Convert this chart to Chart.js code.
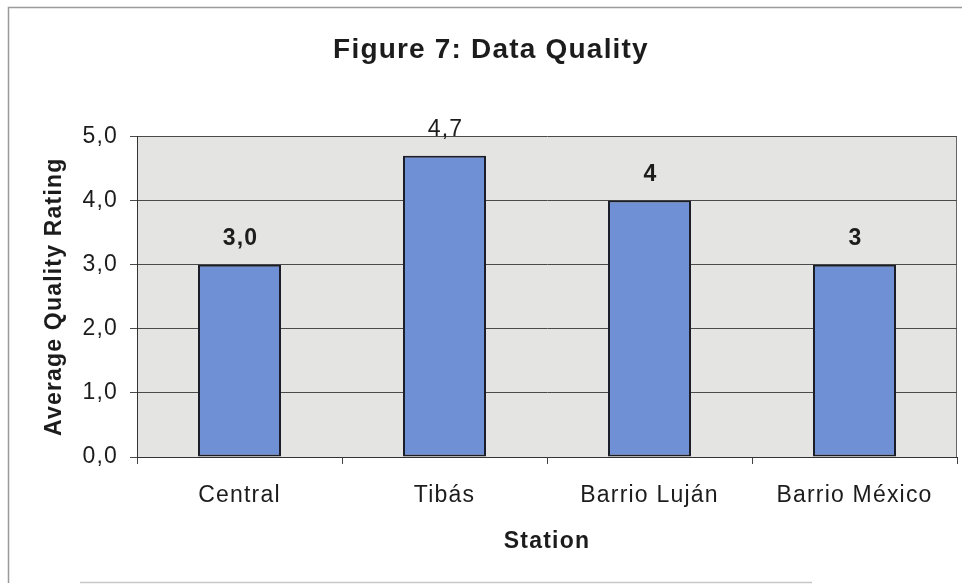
<!DOCTYPE html>
<html>
<head>
<meta charset="utf-8">
<script src="https://cdn.jsdelivr.net/npm/chart.js@4"></script>
<style>
  html, body { margin: 0; padding: 0; background: #ffffff; }
  canvas { display: block; }
</style>
</head>
<body>
<canvas id="chart" width="962" height="585"></canvas>
<script>
// Stations and their average quality ratings
const stations = ['Central', 'Tibás', 'Barrio Luján', 'Barrio México'];
const ratings = [3.0, 4.7, 4, 3];
const ratingLabels = ['3,0', '4,7', '4', '3'];
const yTickLabels = ['0,0', '1,0', '2,0', '3,0', '4,0', '5,0'];

const FONT = "'Liberation Sans', Arial, Helvetica, sans-serif";
const TEXT = '#1c1c1c';
const TRACKING = '1.2px';

// Slightly tracked-out lettering for all canvas text
const spacing = {
  id: 'spacing',
  beforeUpdate(chart) { chart.ctx.letterSpacing = TRACKING; },
  beforeDraw(chart) { chart.ctx.letterSpacing = TRACKING; }
};

// Grey plot panel plus the thin outer frame
const panel = {
  id: 'panel',
  beforeDraw(chart) {
    const { ctx, chartArea: a, width, height } = chart;
    ctx.save();
    ctx.fillStyle = '#e4e4e2';
    ctx.fillRect(a.left, a.top, a.right - a.left, a.bottom - a.top);
    ctx.strokeStyle = '#666666';
    ctx.lineWidth = 1;
    ctx.beginPath();
    ctx.moveTo(a.right - 0.5, a.top);
    ctx.lineTo(a.right - 0.5, a.bottom);
    ctx.stroke();
    ctx.strokeStyle = '#9a9a9a';
    ctx.lineWidth = 1.5;
    ctx.beginPath();
    ctx.moveTo(width, 7.5);
    ctx.lineTo(8.5, 7.5);
    ctx.lineTo(8.5, height - 2);
    ctx.stroke();
    ctx.strokeStyle = '#c8c8c8';
    ctx.beginPath();
    ctx.moveTo(80, height - 2.5);
    ctx.lineTo(width - 150, height - 2.5);
    ctx.stroke();
    ctx.restore();
  }
};

// Value labels above each bar
const valueLabels = {
  id: 'valueLabels',
  afterDatasetsDraw(chart, args, opts) {
    const { ctx } = chart;
    const meta = chart.getDatasetMeta(0);
    ctx.save();
    ctx.letterSpacing = TRACKING;
    ctx.fillStyle = TEXT;
    ctx.textAlign = 'center';
    ctx.textBaseline = 'middle';
    meta.data.forEach((bar, i) => {
      const weight = opts.weights[i] || 'bold';
      ctx.font = weight + ' 23px ' + FONT;
      ctx.fillText(ratingLabels[i], bar.x + 1, bar.y - opts.offset);
    });
    ctx.restore();
  }
};

new Chart(document.getElementById('chart'), {
  type: 'bar',
  data: {
    labels: stations,
    datasets: [{
      data: ratings,
      backgroundColor: '#7090d5',
      borderColor: '#1b1d28',
      borderWidth: 2,
      borderSkipped: false,
      categoryPercentage: 1.0,
      barPercentage: 0.405
    }]
  },
  options: {
    responsive: false,
    animation: false,
    devicePixelRatio: 1,
    layout: { padding: { left: 25, right: 5, top: 0, bottom: 10 } },
    plugins: {
      legend: { display: false },
      tooltip: { enabled: false },
      title: {
        display: true,
        text: 'Figure 7: Data Quality',
        color: TEXT,
        font: { family: FONT, size: 28, weight: 'bold' },
        padding: { top: 33.5, bottom: 69.4 }
      },
      valueLabels: { offset: 26, weights: ['bold', 'normal', 'bold', 'bold'] }
    },
    scales: {
      x: {
        grid: {
          offset: true,
          drawOnChartArea: false,
          drawTicks: true,
          tickLength: 7,
          color: '#444444'
        },
        border: { display: true, color: '#333333' },
        ticks: { padding: 18, color: TEXT, font: { family: FONT, size: 23 } },
        title: {
          display: true,
          text: 'Station',
          color: TEXT,
          font: { family: FONT, size: 23, weight: 'bold' },
          padding: { top: 0, bottom: 20 }
        },
        afterFit(scale) { scale.height = 118; }
      },
      y: {
        min: 0,
        max: 5,
        ticks: {
          stepSize: 1,
          padding: 12,
          color: TEXT,
          font: { family: FONT, size: 23 },
          callback: (value, index) => yTickLabels[index]
        },
        grid: { color: '#4a4a4a', tickLength: 7, drawTicks: true },
        border: { display: true, color: '#333333' },
        title: {
          display: true,
          text: 'Average Quality Rating',
          color: TEXT,
          font: { family: FONT, size: 23, weight: 'bold' },
          padding: { top: 16, bottom: 0 }
        },
        afterFit(scale) { scale.width = 112; }
      }
    }
  },
  plugins: [spacing, panel, valueLabels]
});
</script>
</body>
</html>
